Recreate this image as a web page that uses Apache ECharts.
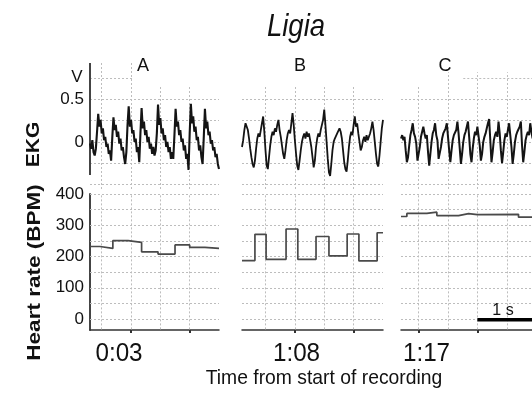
<!DOCTYPE html>
<html><head><meta charset="utf-8">
<script src="https://cdn.jsdelivr.net/npm/echarts@6/dist/echarts.min.js"></script>
<style>html,body{margin:0;padding:0;background:#fff}#c{width:532px;height:397px}</style>
</head><body><div id="c"></div><script>
const FONT = '"Liberation Sans", Arial, Helvetica, sans-serif';
const dt = 0.02; // EKG sample step (s)
const panelNames = ['A', 'B', 'C'];
const timeLabels = ['0:03', '1:08', '1:17'];
const panelSpan = [2.2, 2.4, 2.4];

const ekgA = [-0.02,-0.08,0.02,-0.12,-0.16,-0.08,0.12,0.33,0.18,0.26,
 0.10,0.16,0.02,0.06,-0.06,-0.02,-0.14,-0.10,-0.22,0.05,
 0.29,0.14,0.20,0.06,0.12,-0.02,0.04,-0.10,-0.06,-0.18,
 -0.26,-0.12,0.20,0.42,0.18,0.26,0.10,0.14,0.00,0.04,
 -0.12,-0.06,-0.24,0.10,0.40,0.16,0.24,0.08,0.14,0.00,
 0.06,-0.08,-0.02,-0.14,-0.06,-0.16,-0.10,0.10,0.44,0.20,
 0.28,0.10,0.16,0.02,0.08,-0.06,0.00,-0.12,-0.06,-0.20,
 -0.12,-0.20,0.08,0.39,0.18,0.24,0.08,0.14,0.00,0.04,
 -0.10,-0.04,-0.20,-0.14,-0.33,0.10,0.45,0.22,0.30,0.12,
 0.18,0.02,0.06,-0.10,-0.04,-0.18,-0.26,0.05,0.39,0.16,
 0.24,0.08,0.12,-0.02,0.02,-0.10,-0.06,-0.18,-0.14,-0.26,
 -0.32];
const ekgB = [-0.06,0.02,0.14,0.22,0.24,0.14,0.04,-0.08,-0.18,-0.26,
 -0.30,-0.22,-0.08,0.04,0.10,0.06,0.14,0.22,0.30,0.12,
 -0.10,-0.28,-0.32,-0.18,-0.04,0.06,0.12,0.08,0.16,0.12,
 0.20,0.26,0.14,0.06,-0.04,-0.14,-0.20,-0.10,0.02,0.10,
 0.14,0.10,0.22,0.34,0.20,0.02,-0.14,-0.28,-0.33,-0.22,
 -0.10,0.00,0.06,0.10,0.04,0.12,0.06,0.10,0.02,-0.06,
 -0.18,-0.30,-0.22,-0.06,0.04,0.10,0.06,0.14,0.12,0.26,
 0.38,0.20,0.00,-0.20,-0.36,-0.40,-0.26,-0.10,0.00,0.04,
 0.02,0.10,0.08,0.16,0.12,0.04,-0.10,-0.24,-0.32,-0.35,
 -0.22,-0.06,0.06,0.12,0.08,0.20,0.30,0.18,0.22,0.10,
 0.00,-0.10,-0.06,0.02,0.06,0.00,0.08,0.02,0.06,0.10,
 0.16,0.24,0.14,0.00,-0.14,-0.26,-0.29,-0.16,0.00,0.16,
 0.26];
const ekgC = [0.04,0.08,0.02,0.06,-0.10,-0.24,-0.18,-0.04,0.08,0.14,
 0.22,0.10,0.06,-0.02,-0.22,-0.20,-0.06,0.06,0.12,0.18,
 0.10,0.04,0.08,-0.12,-0.28,-0.14,0.00,0.10,0.14,0.22,
 0.08,0.02,-0.20,-0.22,-0.06,0.04,0.10,0.08,0.16,0.22,
 0.06,-0.10,-0.24,-0.10,0.02,0.08,0.06,0.14,0.24,0.10,
 -0.08,-0.26,-0.14,0.00,0.08,0.12,0.10,0.24,0.06,-0.14,
 -0.24,-0.08,0.04,0.12,0.08,0.18,0.20,-0.04,-0.22,-0.14,
 0.00,0.06,0.10,0.16,0.22,0.27,0.02,-0.24,-0.12,0.02,
 0.08,0.12,0.06,0.24,0.10,-0.10,-0.25,-0.12,0.02,0.10,
 0.06,0.14,0.22,0.08,-0.06,-0.26,-0.14,0.00,0.08,0.12,
 0.10,0.18,0.24,-0.04,-0.24,-0.12,0.02,0.08,0.12,0.08,
 0.22,0.12,0.04];

const hrTimesA = [0, 0.17, 0.39, 0.65, 0.88, 1.16, 1.45, 1.70, 1.96, 2.2];
const hrBpmA   = [232, 226, 251, 245, 215, 208, 237, 229, 226, 226];
const hrTimesB = [0, 0.22, 0.41, 0.75, 0.95, 1.26, 1.48, 1.79, 1.99, 2.30, 2.4];
const hrBpmB   = [187, 271, 191, 288, 191, 264, 202, 272, 186, 276, 276];
const hrTimesC = [0, 0.10, 0.44, 0.61, 0.98, 1.15, 1.30, 2.00, 2.4];
const hrBpmC   = [328, 338, 342, 331, 337, 334, 335, 326, 326];

const ekgTickValues = [0, 0.5];
const hrTickValues = [0, 100, 200, 300, 400];
const hrGridLevels = [0, 50, 100, 150, 200, 250, 300, 350, 400];
const ekgGridLevels = [-0.5, -0.25, 0, 0.25, 0.5];
const gridTimes = [[0.2, 0.7, 1.2, 1.7], [0.4, 0.9, 1.4, 1.9], [0.3, 0.8, 1.3, 1.8, 2.3]];
const secondTicks = [[0.7, 1.7], [0.9, 1.9], [0.3, 1.3]];
const scaleBar = { start: 1.3, length: 1, level: -2, label: '1 s' };

const ekgSeries = [ekgA, ekgB, ekgC];
const hrSeries = [[hrTimesA, hrBpmA], [hrTimesB, hrBpmB], [hrTimesC, hrBpmC]];

// ---- layout ----
const ekgRange = { min: -0.555, max: 0.93 };
const hrRange = { min: -35, max: 400 };
const colX = [{ left: 90, width: 129 }, { left: 242, width: 141 }, { left: 401, width: 141 }];
const ekgVTop = [[0.93, 0.93, 0.67, 0.67], [0.67, 0.67, 0.67, 0.67], [0.67, 0.82, 0.82, 0.82, 0.82]];
const ekgPartial = [[0, 0.72], null, [1.06, 2.4]];
const ekgWidths = [2.1, 1.8, 2.0];
const dotStyle = { type: [2, 2], color: '#bdbdbd', width: 1 };
const axisStyle = { type: 'solid', color: '#444', width: 2 };

function seg(x1, y1, x2, y2, style) {
  const a = { coord: [x1, y1] }, b = { coord: [x2, y2] };
  if (style) { a.lineStyle = style; b.lineStyle = style; }
  return [a, b];
}

const grid = [], xAxis = [], yAxis = [], series = [];
for (let p = 0; p < 3; p++) {
  grid.push({ left: colX[p].left, width: colX[p].width, top: 63, height: 126, containLabel: false, outerBoundsMode: 'none' });
}
for (let p = 0; p < 3; p++) {
  grid.push({ left: colX[p].left, width: colX[p].width, top: 194, height: 136, containLabel: false, outerBoundsMode: 'none' });
}
for (let p = 0; p < 3; p++) {
  xAxis.push({ type: 'value', gridIndex: p, min: 0, max: panelSpan[p], show: false });
  yAxis.push({ type: 'value', gridIndex: p, min: ekgRange.min, max: ekgRange.max, show: p === 0,
    axisLine: { show: false }, axisTick: { show: false }, splitLine: { show: false },
    axisLabel: { show: p === 0, customValues: ekgTickValues, fontSize: 17, color: '#111', fontFamily: FONT, margin: 6 } });
}
for (let p = 0; p < 3; p++) {
  xAxis.push({ type: 'value', gridIndex: 3 + p, min: 0, max: panelSpan[p],
    axisLine: { show: true, onZero: false, lineStyle: { color: '#333', width: 1.5 } },
    axisTick: { show: true, customValues: secondTicks[p], length: 3, inside: false, lineStyle: { color: '#333', width: 2 } },
    axisLabel: { show: false }, splitLine: { show: false } });
  yAxis.push({ type: 'value', gridIndex: 3 + p, min: hrRange.min, max: hrRange.max, show: p === 0,
    axisLine: { show: p === 0, onZero: false, lineStyle: { color: '#444', width: 2 } },
    axisTick: { show: false }, splitLine: { show: false },
    axisLabel: { show: p === 0, customValues: hrTickValues, fontSize: 17, color: '#111', fontFamily: FONT, margin: 6 } });
}

for (let p = 0; p < 3; p++) {
  // EKG grid lines
  const eLines = [];
  gridTimes[p].forEach((t, k) => eLines.push(seg(t, ekgRange.min, t, ekgVTop[p][k])));
  ekgGridLevels.forEach(v => eLines.push(seg(0, v, panelSpan[p], v)));
  if (ekgPartial[p]) eLines.push(seg(ekgPartial[p][0], 0.75, ekgPartial[p][1], 0.75));
  if (p === 0) eLines.push(seg(0, -0.39, 0, ekgRange.max, axisStyle));
  series.push({ type: 'line', xAxisIndex: p, yAxisIndex: p, data: [], z: 1, silent: true,
    markLine: { z: 1, silent: true, symbol: ['none', 'none'], label: { show: false }, lineStyle: dotStyle, data: eLines, animation: false } });
  // HR grid lines
  const hLines = [];
  gridTimes[p].forEach(t => { if (t < panelSpan[p]) hLines.push(seg(t, hrRange.min + 2, t, hrRange.max)); });
  hrGridLevels.forEach(v => hLines.push(seg(0, v, panelSpan[p], v)));
  series.push({ type: 'line', xAxisIndex: 3 + p, yAxisIndex: 3 + p, data: [], z: 1, silent: true,
    markLine: { z: 1, silent: true, symbol: ['none', 'none'], label: { show: false }, lineStyle: dotStyle, data: hLines, animation: false } });
  // EKG trace
  series.push({ type: 'line', xAxisIndex: p, yAxisIndex: p, z: 3, showSymbol: false, silent: true,
    data: ekgSeries[p].map((v, i) => [i * dt, v]),
    lineStyle: { color: '#141414', width: ekgWidths[p] } });
  // Heart rate step trace
  series.push({ type: 'line', xAxisIndex: 3 + p, yAxisIndex: 3 + p, z: 3, showSymbol: false, silent: true, step: 'end',
    data: hrSeries[p][0].map((t, i) => [t, hrSeries[p][1][i]]),
    lineStyle: { color: '#4a4a4a', width: 1.7 } });
}
// 1 s scale bar
series.push({ type: 'line', xAxisIndex: 5, yAxisIndex: 5, z: 6, showSymbol: false, silent: true,
  data: [[scaleBar.start, scaleBar.level], [scaleBar.start + scaleBar.length, scaleBar.level]],
  lineStyle: { color: '#000', width: 3.5 } });

function txt(text, x, y, size, o) {
  o = o || {};
  return { type: 'text', x: x, y: y, z: 10, silent: true,
    rotation: o.rot || 0, scaleX: o.sx || 1, scaleY: o.sy || 1,
    style: { text: text, font: (o.italic ? 'italic ' : '') + (o.bold ? 'bold ' : '') + size + 'px ' + FONT,
      fill: '#111', align: 'center', verticalAlign: 'middle', textAlign: 'center', textVerticalAlign: 'middle' } };
}
const panelLabelX = [143, 300, 445];
const timeLabelX = [119, 296.5, 426.5];
const graphic = [
  txt('Ligia', 296, 27, 32, { italic: true, sx: 0.86 }),
  txt('V', 77, 77.5, 17),
  txt('EKG', 34.5, 144.5, 21, { bold: true, rot: Math.PI / 2, sy: 0.85 }),
  txt('Heart rate (BPM)', 35, 272.5, 22.5, { bold: true, rot: Math.PI / 2, sy: 0.85 }),
  txt('Time from start of recording', 324, 378, 21, { sx: 0.92 }),
  txt(scaleBar.label, 503, 311, 16)
];
panelNames.forEach((n, p) => graphic.push(txt(n, panelLabelX[p], 66, 19, { sx: 0.95 })));
timeLabels.forEach((n, p) => graphic.push(txt(n, timeLabelX[p], 354.5, 25, { sx: 0.97 })));

const chart = echarts.init(document.getElementById('c'), null, { renderer: 'canvas' });
chart.setOption({ backgroundColor: '#fff', animation: false, grid, xAxis, yAxis, series, graphic });
</script></body></html>
